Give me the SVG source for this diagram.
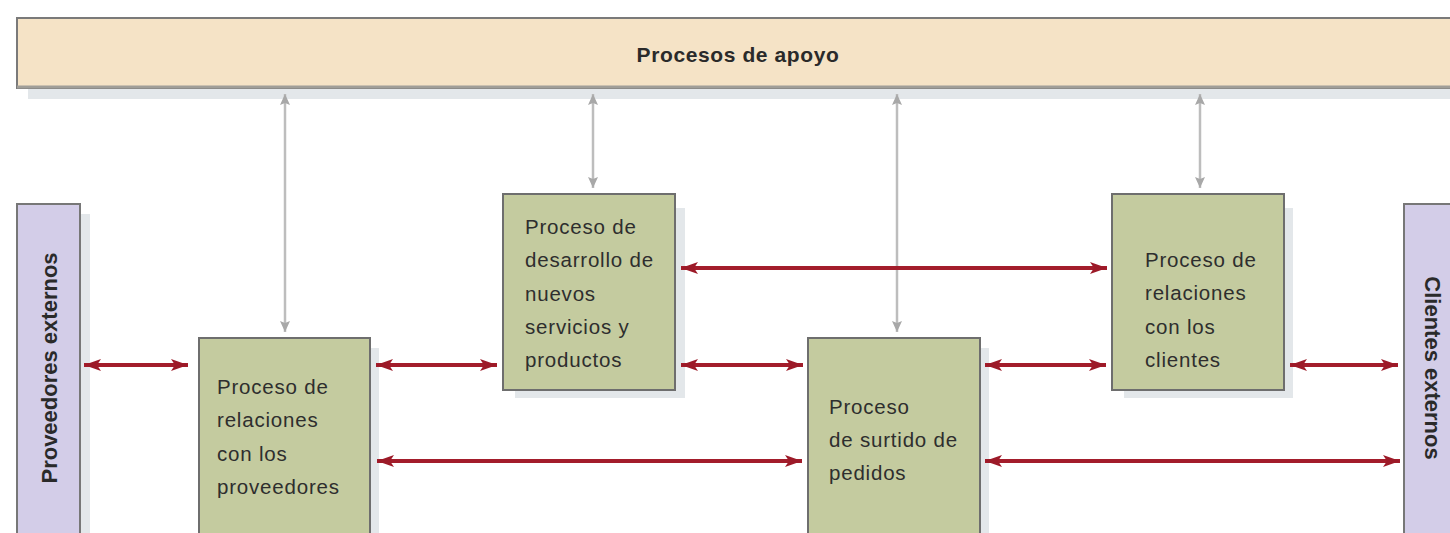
<svg xmlns="http://www.w3.org/2000/svg" width="1450" height="533" viewBox="0 0 1450 533">
<style>
.box{fill:#c4cb9f;stroke:#6e6e6e;stroke-width:2}
.ext{fill:#d3cde8;stroke:#777;stroke-width:2}
.shadow{fill:#e3e7ea}
.t{font-family:"Liberation Sans",Arial,sans-serif;font-size:20.5px;letter-spacing:0.8px;fill:#2e2e2e}
.tb{font-family:"Liberation Sans",Arial,sans-serif;font-weight:bold;fill:#2a2a2a}
.red{stroke:#a31d2b;stroke-width:4;fill:none;marker-start:url(#ra);marker-end:url(#ra)}
.gray{stroke:#bdbdbd;stroke-width:2.5;fill:none;marker-start:url(#ga);marker-end:url(#ga)}
</style>
<defs>
<marker id="ra" markerUnits="userSpaceOnUse" markerWidth="18" markerHeight="14" refX="17" refY="7" orient="auto-start-reverse">
<path d="M0,1 L17,7 L0,13 L4,7 z" fill="#9c1a28"/>
</marker>
<marker id="ga" markerUnits="userSpaceOnUse" markerWidth="12" markerHeight="12" refX="11" refY="6" orient="auto-start-reverse">
<path d="M0,1 L11,6 L0,11 L2,6 z" fill="#a8a8a8"/>
</marker>
</defs>
<rect width="1450" height="533" fill="#ffffff"/>

<g id="apoyo">
<rect class="shadow" x="28" y="89" width="1430" height="10"/>
<rect x="17" y="18" width="1445" height="70" fill="#f5e3c6" stroke="#7a7a7a" stroke-width="2"/>
<line x1="17" y1="87" x2="1450" y2="87" stroke="#a09e98" stroke-width="3"/>
<text class="tb" x="738" y="62" font-size="21" letter-spacing="0.6" text-anchor="middle">Procesos de apoyo</text>
</g>

<g id="proveedores-externos">
<rect class="shadow" x="80" y="214" width="10" height="330"/>
<rect class="ext" x="17" y="204" width="63" height="340"/>
<text class="tb" font-size="22" text-anchor="middle" transform="translate(57,368) rotate(-90)">Proveedores externos</text>
</g>

<g id="clientes-externos">
<rect class="ext" x="1404" y="204" width="60" height="340"/>
<text class="tb" font-size="22" text-anchor="middle" transform="translate(1425,368) rotate(90)">Clientes externos</text>
</g>

<g id="relaciones-proveedores">
<rect class="shadow" x="370" y="348" width="9" height="190"/>
<rect class="box" x="199" y="338" width="171" height="205"/>
<text class="t"><tspan x="217" y="394">Proceso de</tspan><tspan x="217" y="427">relaciones</tspan><tspan x="217" y="461">con los</tspan><tspan x="217" y="494">proveedores</tspan></text>
</g>

<g id="desarrollo">
<rect class="shadow" x="675" y="208" width="10" height="190"/>
<rect class="shadow" x="515" y="390" width="170" height="8"/>
<rect class="box" x="503" y="194" width="172" height="196"/>
<text class="t"><tspan x="525" y="234">Proceso de</tspan><tspan x="525" y="267">desarrollo de</tspan><tspan x="525" y="301">nuevos</tspan><tspan x="525" y="334">servicios y</tspan><tspan x="525" y="367">productos</tspan></text>
</g>

<g id="surtido">
<rect class="shadow" x="980" y="348" width="9" height="190"/>
<rect class="box" x="808" y="338" width="172" height="205"/>
<text class="t"><tspan x="829" y="414">Proceso</tspan><tspan x="829" y="447">de surtido de</tspan><tspan x="829" y="480">pedidos</tspan></text>
</g>

<g id="relaciones-clientes">
<rect class="shadow" x="1284" y="208" width="9" height="190"/>
<rect class="shadow" x="1124" y="390" width="169" height="8"/>
<rect class="box" x="1112" y="194" width="172" height="196"/>
<text class="t"><tspan x="1145" y="267">Proceso de</tspan><tspan x="1145" y="300">relaciones</tspan><tspan x="1145" y="334">con los</tspan><tspan x="1145" y="367">clientes</tspan></text>
</g>

<g id="connectors">
<line class="gray" x1="285" y1="94" x2="285" y2="332"/>
<line class="gray" x1="593" y1="94" x2="593" y2="188"/>
<line class="gray" x1="897" y1="94" x2="897" y2="332"/>
<line class="gray" x1="1200" y1="94" x2="1200" y2="188"/>

<line class="red" x1="84" y1="365" x2="188" y2="365"/>
<line class="red" x1="376" y1="365" x2="497" y2="365"/>
<line class="red" x1="681" y1="365" x2="803" y2="365"/>
<line class="red" x1="985" y1="365" x2="1106" y2="365"/>
<line class="red" x1="1290" y1="365" x2="1398" y2="365"/>
<line class="red" x1="681" y1="268" x2="1107" y2="268"/>
<line class="red" x1="377" y1="461" x2="802" y2="461"/>
<line class="red" x1="985" y1="461" x2="1400" y2="461"/>
</g>
</svg>
